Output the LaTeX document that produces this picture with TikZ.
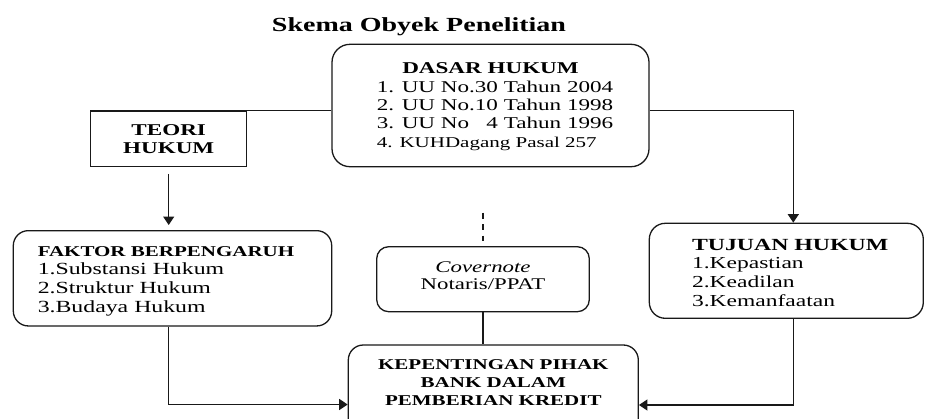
\documentclass[tikz,border=0pt]{standalone}
\usepackage{fontspec}
\setmainfont{Liberation Serif}[
  UprightFont=*, BoldFont=* Bold, ItalicFont=* Italic,
  UprightFeatures={FakeStretch=1.4},
  BoldFeatures={FakeStretch=1.4},
  ItalicFeatures={FakeStretch=1.4}]
\usetikzlibrary{arrows.meta}
\newcommand{\tp}[1]{\rule{0pt}{#1}}
\newcommand{\bt}[1]{\rule[-#1]{0pt}{#1}}
\begin{document}
\begin{tikzpicture}[x=1pt,y=-1pt,
  box/.style={draw=black!90,line width=1.3pt,rounded corners=#1,inner sep=0pt},
  box/.default=16pt,
  conn/.style={draw=black!90,line width=1.3pt},
  arr/.style={conn,-{Triangle[length=8.5pt,width=11pt]}},
  fs/.style 2 args={font=\fontsize{#1}{#2}\selectfont}
]
\useasboundingbox (0,0) rectangle (925,418);
\fill[white] (0,0) rectangle (925,418);
\clip (0,0) rectangle (925,418);

% title
\node[font=\fontsize{20}{24}\selectfont\bfseries, anchor=base, inner sep=0pt] (title) at (419,31.7) {Skema Obyek Penelitian};

% boxes
\node[box=18pt, minimum width=317pt, minimum height=122.4pt, align=center,
      fs={16.5}{18.3}] (dasar) at (490.5,105.5)
  {\tp{15.5pt}{\bfseries DASAR HUKUM}\\
   \begin{tabular}[t]{@{\hspace{9pt}}l@{}}
   1. UU No.30 Tahun 2004\\
   2. UU No.10 Tahun 1998\\
   3. UU No\ \ \ 4 Tahun 1996\\
   {\fontsize{15}{18.3}\selectfont 4. KUHDagang Pasal 257}
   \end{tabular}};

\node[box=0pt, minimum width=156pt, minimum height=55.7pt, align=center,
      font=\fontsize{16.5}{18.3}\selectfont\bfseries] (teori) at (168.7,138.8)
  {\tp{15.7pt}TEORI\\HUKUM\bt{5pt}};

\node[box=15pt, minimum width=318.4pt, minimum height=95.3pt, align=left,
      fs={17}{18.7}] (faktor) at (172.5,278.3)
  {\tp{16.5pt}\makebox[269.5pt][l]{\fontsize{15}{18.7}\selectfont\bfseries FAKTOR BERPENGARUH}\\
   1.Substansi Hukum\\
   2.Struktur Hukum\\
   3.Budaya Hukum\bt{5pt}};

\node[box=12pt, minimum width=212.6pt, minimum height=65pt, align=center,
      fs={16.3}{16.7}] (cov) at (483,279.2)
  {\tp{15pt}{\itshape Covernote}\\Notaris/PPAT\bt{11.3pt}};

\node[box=15pt, minimum width=290pt, minimum height=90pt, align=center,
      font=\fontsize{15}{17.85}\selectfont\bfseries] (kep) at (493.3,390)
  {\tp{15pt}KEPENTINGAN PIHAK\\BANK DALAM\\PEMBERIAN KREDIT\bt{20.7pt}};

\node[box=16pt, minimum width=274pt, minimum height=95pt, align=left,
      fs={16.8}{18.7}] (tuj) at (786.3,270.8)
  {\tp{19.5pt}\makebox[188.6pt][l]{\fontsize{17}{18.7}\selectfont\bfseries TUJUAN HUKUM}\\
   1.Kepastian\\
   2.Keadilan\\
   3.Kemanfaatan\bt{5pt}};

% connectors
\draw[conn] (dasar.west |- teori.north east) -- (teori.north east);
\draw[arr] (dasar.east |- teori.north) -| ([xshift=7pt]tuj.north);
\draw[arr,shorten <=6.6pt,shorten >=5pt] (teori.south) -- (teori.south |- faktor.north);
\draw[arr] (teori.south |- faktor.south) |- ([yshift=-14.5pt]kep.west);
\draw[arr] ([xshift=7pt]tuj.south) |- ([yshift=-15pt]kep.east);
\draw[conn] (cov.south) -- (cov.south |- kep.north);
\coordinate (dtop) at (483,212.7);
\draw[conn,dash pattern=on 6.2pt off 5.2pt,shorten >=5pt] (dtop) -- (dtop |- cov.north);
\end{tikzpicture}
\end{document}
